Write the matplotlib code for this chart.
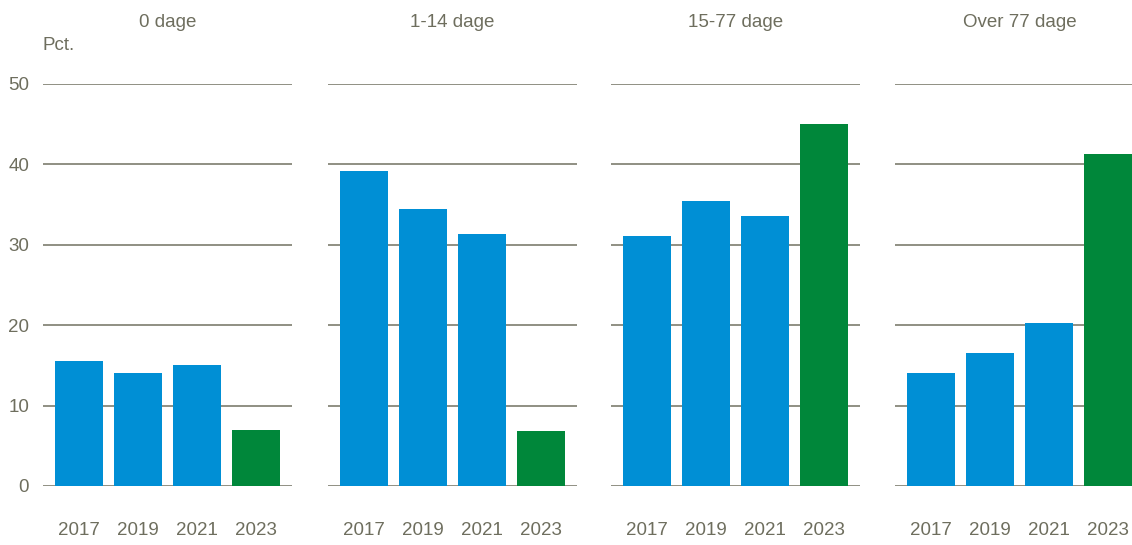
import matplotlib.pyplot as plt

plt.rcParams['font.family'] = ['Liberation Sans', 'DejaVu Sans']

years = ['2017', '2019', '2021', '2023']
groups = ['0 dage', '1-14 dage', '15-77 dage', 'Over 77 dage']
values = [
    [15.6, 14.0, 15.0, 7.0],
    [39.2, 34.4, 31.3, 6.9],
    [31.1, 35.4, 33.6, 45.0],
    [14.1, 16.5, 20.3, 41.3],
]

blue = '#008fd5'
green = '#00873a'
text_col = '#6e6e5e'
grid_col = '#87877a'
colors = [blue, blue, blue, green]

fig = plt.figure(figsize=(11.32, 5.45), dpi=100)
lefts = [43, 328, 611, 895]
W, H = 1132, 545

for i, (grp, vals) in enumerate(zip(groups, values)):
    ax = fig.add_axes([lefts[i] / W, 59 / H, 249 / W, 402 / H])
    x = range(len(years))
    ax.bar(x, vals, width=0.81, color=colors, zorder=3)
    ax.set_xlim(-0.6, 3.6)
    ax.set_ylim(0, 50)
    ax.set_yticks([0, 10, 20, 30, 40, 50])
    ax.set_xticks(list(x))
    ax.set_xticklabels(years)
    for s in ax.spines.values():
        s.set_visible(False)
    ax.grid(axis='y', color=grid_col, linewidth=1.3, zorder=1)
    ax.tick_params(axis='x', length=0, pad=26, labelsize=13.5, labelcolor=text_col)
    ax.tick_params(axis='y', length=0, pad=10, labelsize=13.5, labelcolor=text_col)
    if i > 0:
        ax.set_yticklabels([])
    # panel heading
    ax.text(0.5, 1.153, grp, transform=ax.transAxes, fontsize=13.5,
            color=text_col, ha='center', va='center')
    if i == 0:
        ax.text(0, 1.097, 'Pct.', transform=ax.transAxes, fontsize=13.5,
                color=text_col, va='center', ha='left')

fig.savefig('out.png', dpi=100)
